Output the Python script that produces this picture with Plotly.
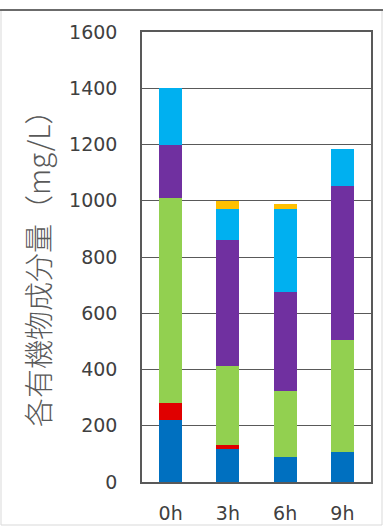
import plotly.graph_objects as go

categories = ["0h", "3h", "6h", "9h"]
blue_vals = [222, 116, 90, 108]
red_vals = [58, 15, 0, 0]
green_vals = [730, 281, 235, 397]
purple_vals = [190, 448, 352, 549]
cyan_vals = [200, 110, 293, 130]
yellow_vals = [0, 30, 18, 0]

series = [
    ("成分1", blue_vals, "#0070C0"),
    ("成分2", red_vals, "#E00000"),
    ("成分3", green_vals, "#92D050"),
    ("成分4", purple_vals, "#7030A0"),
    ("成分5", cyan_vals, "#00B0F0"),
    ("成分6", yellow_vals, "#FFC000"),
]

y_ticks = [0, 200, 400, 600, 800, 1000, 1200, 1400, 1600]
y_title = "各有機物成分量（mg/L）"

W, H = 383, 527
L, R, T, B = 142, 12, 32, 45
pw, ph = W - L - R, H - T - B

fig = go.Figure()
for name, vals, color in series:
    fig.add_trace(go.Bar(x=categories, y=vals, name=name,
                         marker=dict(color=color, line=dict(width=0)),
                         showlegend=False))

font_num = dict(family="DejaVu Sans", size=19, color="#404040")

fig.update_layout(
    width=W, height=H,
    barmode="stack", bargap=0.6,
    margin=dict(l=L, r=R, t=T, b=B),
    paper_bgcolor="white", plot_bgcolor="white",
    xaxis=dict(showline=True, linecolor="#595959", linewidth=1.5, mirror=True,
               showgrid=False, ticks="", tickfont=font_num, ticklabelstandoff=13,
               automargin=False),
    yaxis=dict(range=[0, 1600], tickvals=y_ticks, showline=True,
               linecolor="#595959", linewidth=1.5, mirror=True,
               showgrid=True, gridcolor="#595959", gridwidth=1,
               ticks="", tickfont=font_num, ticklabelstandoff=19, zeroline=False,
               automargin=False),
)

def px_x(px):
    return (px - L) / pw

def px_y(py):
    return (H - B - py) / ph

fig.add_annotation(text=y_title, textangle=-90, xref="paper", yref="paper",
                   x=px_x(37), y=px_y(262), xanchor="center", yanchor="middle",
                   showarrow=False,
                   font=dict(family="Noto Sans CJK JP", size=29, color="#595959",
                             weight=300))

# outer chart frame
fig.add_shape(type="rect", xref="paper", yref="paper",
              x0=px_x(1), x1=px_x(382), y0=px_y(525), y1=px_y(10),
              line=dict(color="#D9D9D9", width=1), layer="below")
fig.add_shape(type="line", xref="paper", yref="paper",
              x0=px_x(0), x1=px_x(383), y0=px_y(10), y1=px_y(10),
              line=dict(color="#404040", width=1.5))

fig.write_html("out.html")
